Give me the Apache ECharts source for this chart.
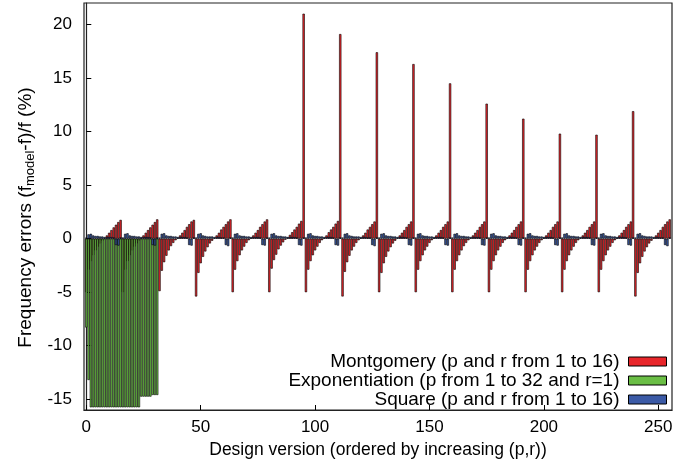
<!DOCTYPE html>
<html><head><meta charset="utf-8">
<script src="https://cdn.jsdelivr.net/npm/echarts@6/dist/echarts.min.js"></script>
<style>html,body{margin:0;padding:0;background:#fff}#c{width:699px;height:468px}</style>
</head><body><div id="c"></div>
<script>
// Montgomery (p and r from 1 to 16): 256 design versions, 16 per line
const montgomery = [
-5.0,-2.9,-2.1,-1.55,-1.1,-0.75,-0.45,-0.2,0.05,0.3,0.55,0.8,1.05,1.3,1.55,1.75,
-5.0,-2.9,-2.1,-1.55,-1.1,-0.75,-0.45,-0.2,0.05,0.3,0.55,0.8,1.05,1.3,1.55,1.8,
-4.9,-3.0,-2.2,-1.6,-1.1,-0.7,-0.4,-0.15,0.05,0.3,0.55,0.8,1.1,1.35,1.6,1.75,
-5.4,-3.2,-2.3,-1.7,-1.2,-0.8,-0.45,-0.2,0.05,0.3,0.55,0.85,1.1,1.35,1.6,1.8,
-5.0,-2.9,-2.1,-1.55,-1.1,-0.75,-0.4,-0.15,0.05,0.3,0.55,0.8,1.1,1.35,1.6,1.8,
-5.0,-2.8,-2.0,-1.5,-1.0,-0.65,-0.35,-0.1,0.1,0.35,0.6,0.85,1.1,1.4,1.65,21.0,
-5.0,-2.9,-2.1,-1.55,-1.1,-0.75,-0.4,-0.15,0.05,0.3,0.6,0.85,1.1,1.4,1.65,19.1,
-5.4,-3.1,-2.2,-1.6,-1.1,-0.75,-0.4,-0.15,0.05,0.3,0.55,0.85,1.1,1.35,1.6,17.4,
-5.0,-3.2,-2.3,-1.7,-1.2,-0.8,-0.45,-0.2,0.05,0.3,0.55,0.8,1.1,1.35,1.6,16.3,
-5.0,-2.9,-2.1,-1.55,-1.1,-0.75,-0.4,-0.15,0.05,0.3,0.55,0.8,1.1,1.35,1.6,14.5,
-5.0,-2.9,-2.1,-1.55,-1.1,-0.7,-0.4,-0.15,0.05,0.3,0.55,0.8,1.1,1.35,1.6,12.6,
-5.0,-2.9,-2.1,-1.55,-1.1,-0.75,-0.4,-0.15,0.05,0.3,0.55,0.8,1.1,1.35,1.6,11.2,
-5.0,-2.9,-2.1,-1.55,-1.1,-0.75,-0.4,-0.15,0.05,0.3,0.55,0.8,1.1,1.35,1.6,9.8,
-5.0,-2.9,-2.1,-1.55,-1.1,-0.75,-0.4,-0.15,0.05,0.3,0.55,0.8,1.1,1.35,1.6,9.7,
-5.0,-2.9,-2.1,-1.55,-1.1,-0.75,-0.4,-0.15,0.05,0.3,0.55,0.8,1.1,1.35,1.6,11.9,
-5.4,-3.2,-2.3,-1.7,-1.2,-0.8,-0.45,-0.2,0.05,0.3,0.55,0.8,1.1,1.35,1.6,1.8
];
// Exponentiation (p from 1 to 32 and r=1)
const exponentiation = [
-8.3,-13.2,-15.75,-15.75,-15.75,-15.75,-15.75,-15.75,-15.75,-15.75,-15.75,-15.75,-15.75,-15.75,-15.75,-15.75,
-15.75,-15.75,-15.75,-15.75,-15.75,-15.75,-15.75,-15.75,-14.75,-14.75,-14.75,-14.75,-14.75,-14.6,-14.6,-14.6
];
// Square (p and r from 1 to 16)
const square = [
0.1,0.4,0.45,0.3,0.25,0.25,0.2,0.2,0.15,0.15,0.15,0.15,0.1,-0.6,-0.65,0.1,
0.1,0.45,0.5,0.3,0.25,0.25,0.2,0.2,0.15,0.15,0.15,0.15,0.1,-0.6,-0.65,0.1,
0.1,0.45,0.5,0.3,0.25,0.25,0.2,0.2,0.15,0.15,0.15,0.15,0.1,-0.6,-0.65,0.1,
0.1,0.45,0.5,0.3,0.25,0.2,0.2,0.2,0.15,0.15,0.15,0.1,0.1,-0.6,-0.7,0.1,
0.1,0.45,0.5,0.3,0.25,0.25,0.2,0.2,0.15,0.15,0.15,0.15,0.1,-0.6,-0.65,0.1,
0.1,0.45,0.5,0.3,0.25,0.25,0.2,0.2,0.15,0.15,0.15,0.15,0.1,-0.6,-0.65,0.1,
0.1,0.45,0.5,0.3,0.25,0.25,0.2,0.2,0.15,0.15,0.15,0.15,0.1,-0.6,-0.65,0.1,
0.1,0.45,0.5,0.3,0.25,0.2,0.2,0.2,0.15,0.15,0.15,0.1,0.1,-0.6,-0.7,0.1,
0.1,0.45,0.5,0.3,0.25,0.25,0.2,0.2,0.15,0.15,0.15,0.15,0.1,-0.6,-0.65,0.1,
0.1,0.45,0.5,0.3,0.25,0.25,0.2,0.2,0.15,0.15,0.15,0.15,0.1,-0.6,-0.65,0.1,
0.1,0.45,0.5,0.3,0.25,0.25,0.2,0.2,0.15,0.15,0.15,0.15,0.1,-0.6,-0.65,0.1,
0.1,0.45,0.5,0.3,0.25,0.25,0.2,0.2,0.15,0.15,0.15,0.15,0.1,-0.6,-0.65,0.1,
0.1,0.45,0.5,0.3,0.25,0.25,0.2,0.2,0.15,0.15,0.15,0.15,0.1,-0.6,-0.65,0.1,
0.1,0.45,0.5,0.3,0.25,0.25,0.2,0.2,0.15,0.15,0.15,0.15,0.1,-0.6,-0.65,0.1,
0.1,0.45,0.5,0.3,0.25,0.25,0.2,0.2,0.15,0.15,0.15,0.15,0.1,-0.6,-0.65,0.1,
0.1,0.45,0.5,0.3,0.25,0.2,0.2,0.2,0.15,0.15,0.15,0.1,0.1,-0.6,-0.7,0.1
];
const seriesNames = ['Montgomery (p and r from 1 to 16)', 'Exponentiation (p from 1 to 32 and r=1)', 'Square (p and r from 1 to 16)'];
const xTicks = [0, 50, 100, 150, 200, 250];
const yTicks = [-15, -10, -5, 0, 5, 10, 15, 20];

const FONT = '"Liberation Sans", Arial, Helvetica, sans-serif';
const FS = 17;
const toPairs = arr => arr.map((v, i) => [i, v]);
const barSeries = (name, data, color) => ({
  name, type: 'bar', data: toPairs(data),
  barWidth: '100%', barGap: '-100%',
  itemStyle: {color, borderColor: '#000', borderWidth: 0.6},
  emphasis: {disabled: true}
});

const chart = echarts.init(document.getElementById('c'), null, {renderer: 'canvas'});
chart.setOption({
  animation: false,
  backgroundColor: '#fff',
  textStyle: {fontFamily: FONT, color: '#000'},
  grid: {left: 84, right: 27, top: 3, bottom: 58, show: true, borderColor: '#222', borderWidth: 1.2},
  legend: {
    orient: 'vertical', right: 27, top: 347, align: 'right',
    icon: 'rect',
    itemWidth: 38, itemHeight: 9, itemGap: 0, selectedMode: false,
    itemStyle: {borderColor: '#000', borderWidth: 1},
    textStyle: {fontSize: 19, lineHeight: 18, color: '#000', fontFamily: FONT, padding: [0, 4, 0, 0]},
    data: seriesNames
  },
  xAxis: {
    type: 'value', min: -1, max: 256,
    axisLine: {show: true, onZero: false, lineStyle: {color: '#222', width: 1.2}},
    axisTick: {show: true, inside: true, length: 5, customValues: xTicks, lineStyle: {color: '#000'}},
    axisLabel: {customValues: xTicks, fontSize: FS, color: '#000', margin: 9, fontFamily: FONT},
    splitLine: {show: false},
    name: 'Design version (ordered by increasing (p,r))',
    nameLocation: 'middle', nameGap: 27,
    nameTextStyle: {fontSize: 17.5, color: '#000', fontFamily: FONT}
  },
  yAxis: {
    type: 'value', min: -16, max: 22,
    axisLine: {show: true, lineStyle: {color: '#222', width: 1.2}},
    axisTick: {show: true, inside: true, length: 5, customValues: yTicks, lineStyle: {color: '#000'}},
    axisLabel: {customValues: yTicks, fontSize: FS, color: '#000', margin: 12, fontFamily: FONT},
    splitLine: {show: false},
    name: 'Frequency errors (f{sub|model}-f)/f (%)',
    nameLocation: 'middle', nameGap: 46, nameRotate: 90,
    nameTextStyle: {
      fontSize: 19, color: '#000', fontFamily: FONT, lineHeight: 19,
      padding: [0, 22, 0, 0],
      rich: {sub: {fontSize: 13, lineHeight: 13, padding: [9, 0, 0, 0], fontFamily: FONT, color: '#000'}}
    }
  },
  series: [
    barSeries(seriesNames[0], montgomery, '#e8262b'),
    barSeries(seriesNames[1], exponentiation, '#6abe45'),
    barSeries(seriesNames[2], square, '#3b5aa6')
  ]
});
</script>
</body></html>
